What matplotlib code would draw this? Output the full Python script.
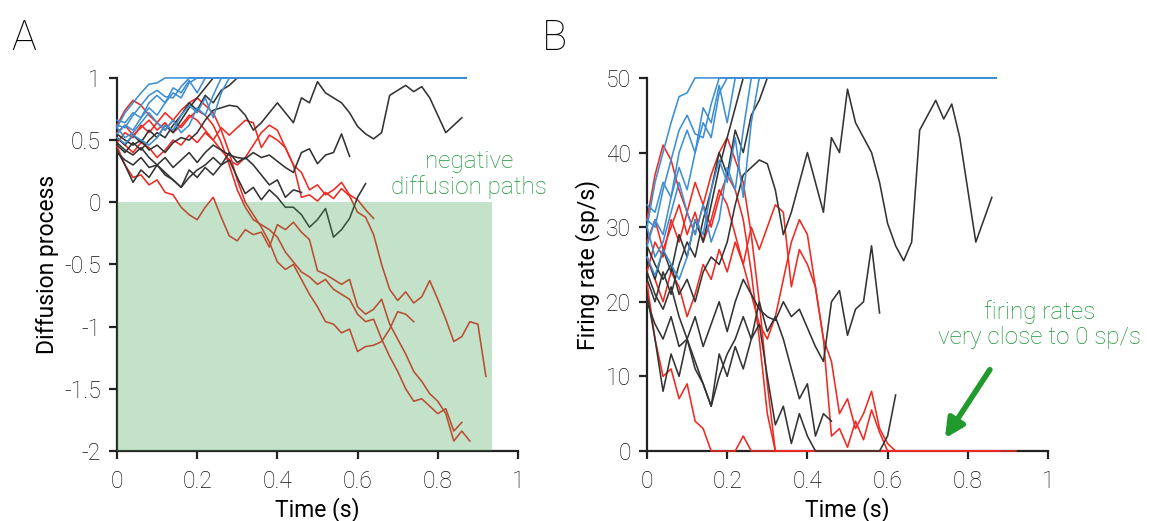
import numpy as np
import matplotlib.pyplot as plt

plt.rcParams['font.family'] = ['Roboto', 'DejaVu Sans']
plt.rcParams['font.weight'] = 'light'

# diffusion paths, one value every dt seconds
dt = 0.02
hold_end = 0.87      # paths that reach the bound stay at 1 until here
shade_end = 0.935
max_rate = 50

blue_1 = [0.60, 0.72, 0.80, 0.88, 0.95, 0.96, 1.0]
blue_2 = [0.62, 0.60, 0.70, 0.78, 0.86, 0.90, 0.85, 0.84, 0.93, 1.0]
blue_3 = [0.55, 0.62, 0.58, 0.68, 0.80, 0.86, 0.80, 0.92, 0.88, 0.98, 0.88, 1.0]
blue_4 = [0.60, 0.52, 0.56, 0.64, 0.72, 0.64, 0.58, 0.66, 0.56, 0.62, 0.76, 0.70,
          0.86, 1.0]
blue_5 = [0.52, 0.47, 0.54, 0.50, 0.46, 0.52, 0.62, 0.58, 0.70, 0.78, 0.72, 0.84,
          0.68, 0.88, 1.0]
blue_6 = [0.66, 0.64, 0.72, 0.68, 0.76, 0.70, 0.80, 0.88, 0.84, 0.96, 1.0]

black_1 = [0.52, 0.46, 0.54, 0.48, 0.58, 0.52, 0.62, 0.56, 0.66, 0.76, 0.84, 0.92, 1.0]
black_2 = [0.46, 0.40, 0.48, 0.42, 0.50, 0.56, 0.52, 0.62, 0.70, 0.80, 0.74, 0.86,
           0.80, 0.90, 0.94, 1.0]
black_3 = [0.55, 0.50, 0.46, 0.50, 0.42, 0.46, 0.40, 0.48, 0.52, 0.50, 0.56, 0.66,
           0.74, 0.76, 0.78, 0.77, 0.70, 0.58, 0.64, 0.72, 0.80, 0.72, 0.64, 0.84,
           0.80, 0.97, 0.88, 0.84, 0.80, 0.72, 0.61, 0.55, 0.51, 0.56, 0.86, 0.90,
           0.94, 0.89, 0.93, 0.84, 0.70, 0.56, 0.62, 0.68]
black_4 = [0.48, 0.42, 0.38, 0.44, 0.36, 0.30, 0.36, 0.28, 0.34, 0.40, 0.32, 0.40,
           0.46, 0.42, 0.38, 0.36, 0.35, 0.40, 0.36, 0.38, 0.33, 0.28, 0.24, 0.40,
           0.43, 0.31, 0.38, 0.40, 0.55, 0.37]
black_5 = [0.40, 0.34, 0.30, 0.36, 0.28, 0.30, 0.22, 0.18, 0.12, 0.20, 0.26, 0.30,
           0.36, 0.30, 0.34, 0.20, 0.07, 0.12, 0.02, 0.10, 0.04, -0.04, -0.04, -0.10,
           -0.20, -0.14, -0.05, -0.28, -0.22, -0.13, 0.04, 0.15]
black_6 = [0.42, 0.30, 0.16, 0.26, 0.20, 0.30, 0.24, 0.18, 0.12, 0.26, 0.20, 0.28,
           0.22, 0.30, 0.40, 0.32, 0.36, 0.30, 0.22, 0.14, 0.18, 0.04, 0.10, 0.08]

red_1 = [0.45, 0.30, 0.20, 0.22, 0.14, 0.18, 0.08, 0.06, -0.04, -0.10, -0.14, -0.04,
         0.04, -0.12, -0.27, -0.31, -0.22, -0.26, -0.24, -0.36, -0.18, -0.22, -0.16,
         -0.24, -0.30, -0.55, -0.58, -0.62, -0.66, -0.62, -0.84, -0.90, -0.86, -0.78,
         -0.98, -1.10, -1.22, -1.36, -1.44, -1.54, -1.60, -1.70, -1.92, -1.84, -1.92]
red_2 = [0.52, 0.46, 0.40, 0.48, 0.44, 0.36, 0.42, 0.50, 0.46, 0.54, 0.48, 0.56,
         0.50, 0.60, 0.54, 0.60, 0.66, 0.64, 0.44, 0.54, 0.50, 0.44, 0.30, 0.04,
         0.06, 0.01, 0.08, 0.03, 0.11, 0.05, -0.08, -0.12, -0.26, -0.50, -0.70, -0.79,
         -0.72, -0.81, -0.76, -0.63, -0.78, -0.94, -1.12, -1.08, -0.96, -0.98, -1.40]
red_3 = [0.56, 0.62, 0.54, 0.60, 0.66, 0.58, 0.64, 0.56, 0.62, 0.70, 0.66, 0.58,
         0.50, 0.42, 0.34, 0.30, 0.36, 0.46, 0.56, 0.62, 0.58, 0.44, 0.30, 0.24,
         0.10, 0.14, 0.06, 0.10, 0.16, 0.06, 0.02, -0.06, -0.13]
red_4 = [0.62, 0.74, 0.82, 0.78, 0.70, 0.64, 0.72, 0.66, 0.74, 0.80, 0.84, 0.78,
         0.72, 0.58, 0.40, 0.18, 0.00, -0.10, -0.20, -0.32, -0.48, -0.54, -0.50,
         -0.62, -0.74, -0.84, -0.96, -0.98, -1.05, -1.02, -1.20, -1.16, -1.15, -1.12,
         -1.02, -0.88, -0.90, -0.96]
red_5 = [0.48, 0.56, 0.52, 0.62, 0.56, 0.64, 0.58, 0.66, 0.60, 0.68, 0.74, 0.70,
         0.62, 0.48, 0.30, 0.10, -0.04, -0.14, -0.18, -0.22, -0.28, -0.40, -0.48,
         -0.56, -0.60, -0.66, -0.62, -0.70, -0.74, -0.78, -0.90, -0.96, -0.94, -1.10,
         -1.24, -1.36, -1.50, -1.60, -1.58, -1.64, -1.70, -1.66, -1.84, -1.77]

red_paths = [red_1, red_2, red_3, red_4, red_5]
black_paths = [black_1, black_2, black_3, black_4, black_5, black_6]
blue_paths = [blue_1, blue_2, blue_3, blue_4, blue_5, blue_6]

red = '#ee2a22'
black = '#333333'
blue = '#3d8fd4'
green_txt = '#1a9636'


def path_xy(vals):
    v = np.minimum(np.array(vals, dtype=float), 1.0)
    t = np.arange(len(v)) * dt
    if v[-1] >= 1.0:
        t = np.append(t, hold_end)
        v = np.append(v, 1.0)
    return t, v


fig = plt.figure(figsize=(11.49, 5.21), dpi=100)
axA = fig.add_axes([0.1018, 0.1344, 0.349, 0.716])
axB = fig.add_axes([0.5631, 0.1344, 0.349, 0.716])

for paths, col in [(red_paths, red), (black_paths, black), (blue_paths, blue)]:
    for p in paths:
        t, v = path_xy(p)
        axA.plot(t, v, color=col, lw=1.15, clip_on=False, zorder=3)
        axB.plot(t, max_rate * np.clip(v, 0, 1), color=col, lw=1.15,
                 clip_on=False, zorder=3)

axA.fill_between([0, shade_end], -2, 0, color='#3ea252', alpha=0.3, lw=0, zorder=5)

axA.set_xlim(0, 1)
axA.set_ylim(-2, 1)
axA.set_yticks([1, 0.5, 0, -0.5, -1, -1.5, -2])
axA.set_yticklabels(['1', '0.5', '0', '-0.5', '-1', '-1.5', '-2'])
axA.set_ylabel('Diffusion process', fontsize=16.5)

axB.set_xlim(0, 1)
axB.set_ylim(0, 50)
axB.set_yticks([0, 10, 20, 30, 40, 50])
axB.set_ylabel('Firing rate (sp/s)', fontsize=16.5)

for ax in (axA, axB):
    ax.set_xticks([0, 0.2, 0.4, 0.6, 0.8, 1])
    ax.set_xticklabels(['0', '0.2', '0.4', '0.6', '0.8', '1'])
    ax.set_xlabel('Time (s)', fontsize=16.5, labelpad=3)
    ax.spines[['top', 'right']].set_visible(False)
    ax.spines[['left', 'bottom']].set_linewidth(1.6)
    ax.spines[['left', 'bottom']].set_color('#222222')
    ax.tick_params(width=1.6, length=5.5, labelsize=16.5, colors='#222222')
    ax.tick_params(axis='x', pad=8)
    ax.tick_params(axis='y', pad=6)
    for lab in ax.get_xticklabels() + ax.get_yticklabels():
        lab.set_color('#111111')

axA.text(0.878, 0.225, 'negative\ndiffusion paths', color=green_txt, fontsize=17.5,
         ha='center', va='center', linespacing=1.1)
axB.text(0.98, 16.9, 'firing rates\nvery close to 0 sp/s', color=green_txt,
         fontsize=17.5, ha='center', va='center', linespacing=1.1, clip_on=False)
axB.annotate('', xy=(0.743, 1.7), xytext=(0.855, 10.9),
             arrowprops=dict(arrowstyle='-|>', lw=4, mutation_scale=28,
                             color='#1f9a2b', shrinkA=0, shrinkB=0))

fig.text(0.010, 0.965, 'A', fontsize=30, va='top')
fig.text(0.472, 0.965, 'B', fontsize=30, va='top')

fig.savefig('out.png', dpi=100)
